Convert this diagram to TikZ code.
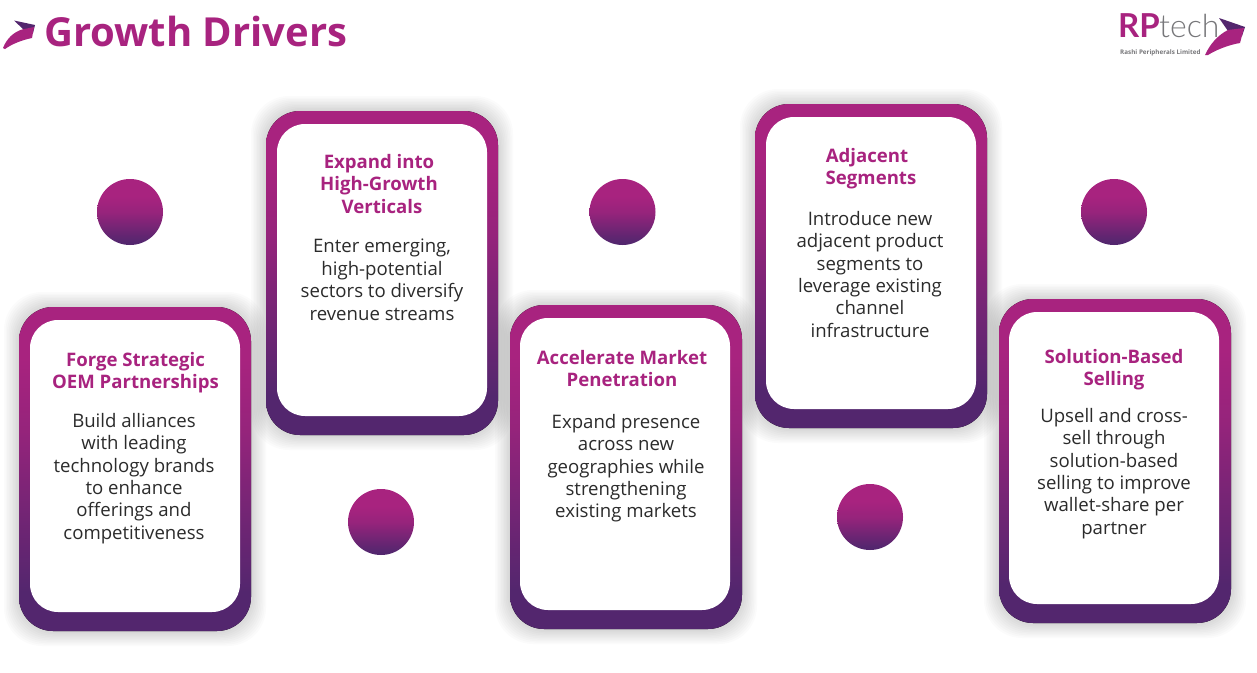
\documentclass[tikz,border=0pt]{standalone}
\usepackage{fontspec}
\setmainfont{Open Sans}
\newfontfamily\logobold{Lato}
\newfontfamily\logolight[UprightFont={Lato Light}]{Lato}
\definecolor{mg}{HTML}{A8237F}
\definecolor{dk}{HTML}{53266E}
\definecolor{bodytxt}{HTML}{2B2B2B}
\definecolor{logogray}{HTML}{77777A}
\pgfdeclareverticalshading{cardshade}{100bp}{color(0bp)=(dk); color(31bp)=(dk); color(56bp)=(mg!78!dk); color(67bp)=(mg); color(100bp)=(mg)}
\pgfdeclareverticalshading{ballshade}{100bp}{color(0bp)=(dk); color(27bp)=(dk); color(50bp)=(mg!80!dk); color(62bp)=(mg); color(100bp)=(mg)}
\tikzset{
  x=1pt,y=-1pt,
  outercard/.style={rounded corners=34pt,shading=cardshade,draw=none},
  innercard/.style={rounded corners=28pt,fill=white,draw=none},
  dot/.style={circle,minimum size=66pt,inner sep=0pt,shading=ballshade,draw=none},
  heading/.style={align=center,text=mg,font=\fontsize{18.6}{22.4}\selectfont\bfseries,anchor=north,inner sep=0pt},
  bodytext/.style={align=center,text=bodytxt,font=\fontsize{18.6}{22.4}\selectfont,anchor=north,inner sep=0pt},
}
\newcommand{\softshadow}[4]{%
  \foreach \g in {1,...,10}{%
    \fill[black,opacity=0.016,rounded corners=38pt] ({#1-1.5*\g},{#2-1.5*\g}) rectangle ({#3+1.5*\g},{#4+1.5*\g});
  }%
}
\begin{document}
\begin{tikzpicture}
\useasboundingbox (0,0) rectangle (1257,672);
\fill[white] (0,0) rectangle (1257,672);
% shadows
\softshadow{19}{307}{251}{631}
\softshadow{266}{111}{498}{435}
\softshadow{510}{305}{742}{629}
\softshadow{755}{104}{987}{428}
\softshadow{999}{299}{1231}{623}
% title
\fill[dk] (14,20.5) -- (35,25) -- (33,33) -- (23,29) -- cycle;
\fill[mg] (3,48) .. controls (7,38) and (14,32) .. (22,29.5) -- (34,27) -- (32,38) .. controls (22,40) and (12,44) .. (5,49) -- cycle;
\node[anchor=base west,inner sep=0pt,text=mg,font=\fontsize{40}{40}\selectfont\bfseries] (title) at (44,46) {Growth Drivers};
% logo
\node[anchor=base west,inner sep=0pt,text=mg,font=\fontsize{33}{33}\selectfont\logobold\bfseries] (rp) at (1118,37) {RP};
\node[anchor=base west,inner sep=0pt,text=logogray,font=\fontsize{32}{32}\selectfont\logolight] (tech) at (1159,37) {tech};
\node[anchor=base west,inner sep=0pt,text=logogray,font=\fontsize{6.3}{7}\selectfont\bfseries] (sub) at (1120,54) {Rashi Peripherals Limited};
\fill[dk] (1219,18) -- (1245,27) -- (1242,36) -- (1228,31) -- cycle;
\fill[mg] (1205,55) .. controls (1210,44) and (1218,35) .. (1228,30) -- (1244,28) -- (1240,43) .. controls (1228,45) and (1216,50) .. (1208,55) -- cycle;
% cards
\fill[outercard] (19,307) rectangle (251,631);
\fill[innercard] (30,320) rectangle (240,612);
\fill[outercard] (266,111) rectangle (498,435);
\fill[innercard] (277,124) rectangle (487,416);
\fill[outercard] (510,305) rectangle (742,629);
\fill[innercard] (520,318) rectangle (730,610);
\fill[outercard] (755,104) rectangle (987,428);
\fill[innercard] (766,117) rectangle (976,409);
\fill[outercard] (999,299) rectangle (1231,623);
\fill[innercard] (1009,312) rectangle (1219,604);
% circles
\node[dot] (c1) at (130,212) {};
\node[dot] (c2) at (622.5,212) {};
\node[dot] (c3) at (1114,212) {};
\node[dot] (c4) at (381,522) {};
\node[dot] (c5) at (870,517) {};
% texts
\node[heading] (h1) at (135.5,352) {Forge Strategic\\OEM Partnerships};
\node[bodytext] (b1) at (134,413) {Build alliances\\with leading\\technology brands\\to enhance\\offerings and\\competitiveness};
\node[heading] (h2) at (379,154) {Expand into\\High-Growth\\\hspace*{6pt}Verticals};
\node[bodytext] (b2) at (382,239) {Enter emerging,\\high-potential\\sectors to diversify\\revenue streams};
\node[heading] (h3) at (622,350) {Accelerate Market\\Penetration};
\node[bodytext] (b3) at (626,414) {Expand presence\\across new\\geographies while\\strengthening\\existing markets};
\node[heading] (h4) at (867,148) {Adjacent\\\hspace*{8pt}Segments};
\node[bodytext] (b4) at (870,211) {Introduce new\\adjacent product\\segments to\\leverage existing\\channel\\infrastructure};
\node[heading] (h5) at (1114,349) {Solution-Based\\Selling};
\node[bodytext] (b5) at (1114,408) {Upsell and cross-\\sell through\\solution-based\\selling to improve\\wallet-share per\\partner};
\end{tikzpicture}
\end{document}
